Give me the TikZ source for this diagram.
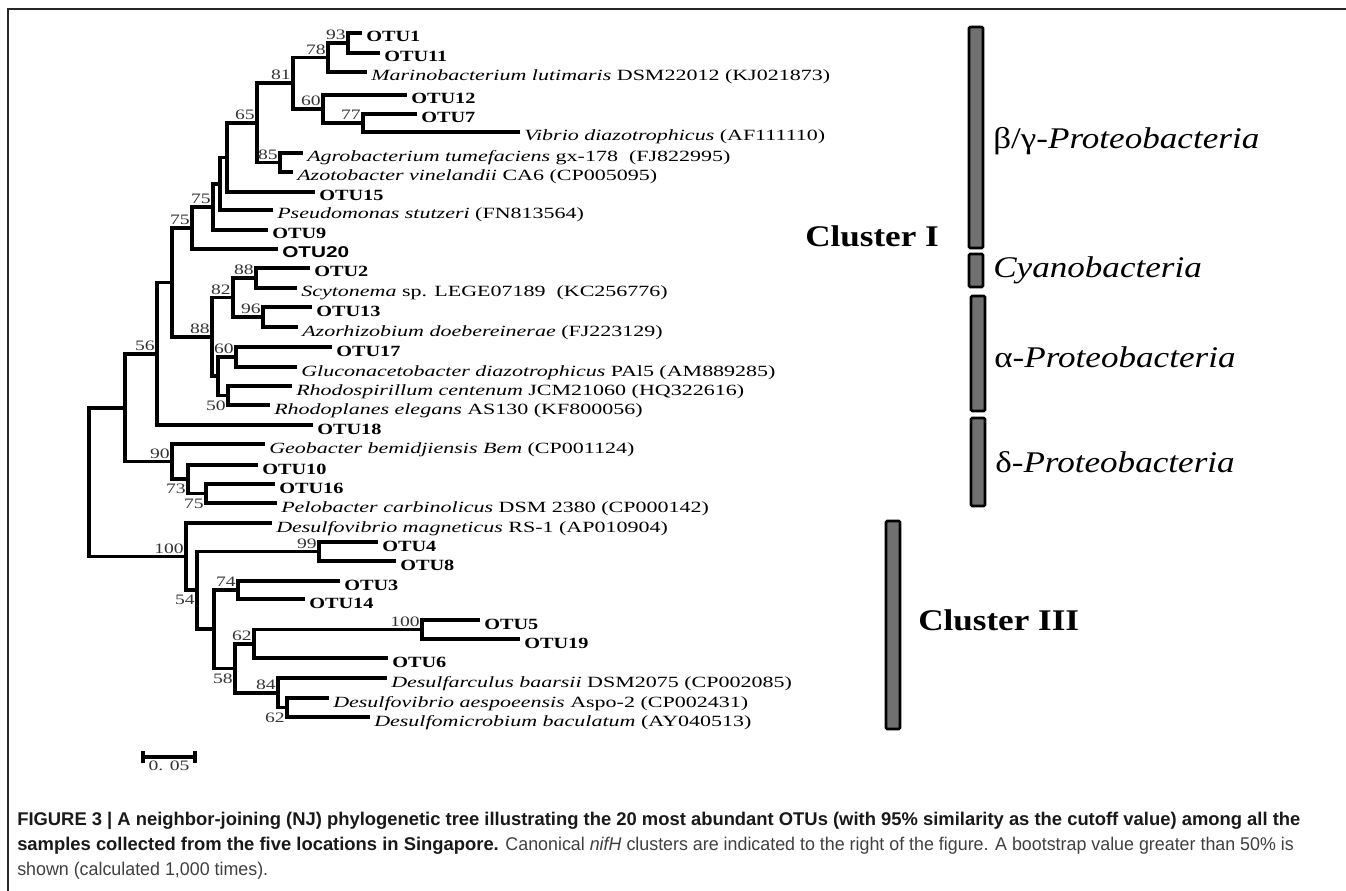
\documentclass[tikz,border=0pt]{standalone}
\usepackage{fontspec}
\setmainfont{Liberation Serif}
\newfontfamily\leaffont{Liberation Serif}[FakeStretch=1.41]
\newfontfamily\otufont{Liberation Serif}[FakeStretch=1.3]
\newfontfamily\bootfont{Liberation Serif}[FakeStretch=1.36]
\newfontfamily\sansleaf{Liberation Sans}[FakeStretch=1.33]
\newfontfamily\grpfont{Liberation Serif}[FakeStretch=1.17]
\newfontfamily\capfont{Liberation Sans}
\newfontfamily\capreg{Liberation Sans}[FakeStretch=0.97]

\begin{document}
\begin{tikzpicture}[x=0.75pt,y=-0.75pt,
  branch/.style={line width=2.6pt},
  leaf/.style={anchor=base west,inner sep=0pt,xshift=3pt,yshift=-6.75pt,font=\leaffont\fontsize{11.7}{12}\selectfont},
  otu/.style={leaf,font=\otufont\bfseries\fontsize{11.7}{12}\selectfont},
  bnum/.style={inner sep=0pt,text=black!80,font=\bootfont\fontsize{10.8}{11}\selectfont},
  boota/.style={bnum,anchor=base east,xshift=-1.5pt,yshift=2.6pt},
  bootb/.style={bnum,anchor=base east,xshift=-1.5pt,yshift=-11pt},
  bar/.style={draw=black,fill=black!56,line width=2pt,rounded corners=1pt},
  grp/.style={anchor=base west,inner sep=0pt,font=\grpfont\fontsize{22.5}{24}\selectfont},
  clus/.style={anchor=base west,inner sep=0pt,font=\grpfont\bfseries\fontsize{22.5}{24}\selectfont},
  capline/.style={anchor=base west,inner sep=0pt,text=black!75,font=\capreg\fontsize{13.8}{16}\selectfont}]
\useasboundingbox (0,0) rectangle (1346,891);
\draw[line width=2.2pt,black!85] (1346,9) -- (8,9) -- (8,891);

% tips
\coordinate (otu1) at (362,33);
\coordinate (otu11) at (380,53);
\coordinate (mari) at (367,72);
\coordinate (otu12) at (407,95);
\coordinate (otu7) at (417,114);
\coordinate (vibr) at (520,132);
\coordinate (agro) at (303,153);
\coordinate (azot) at (293,172);
\coordinate (otu15) at (315,192);
\coordinate (pseu) at (273,210);
\coordinate (otu9) at (268,230);
\coordinate (otu20) at (278,249);
\coordinate (otu2) at (310,268);
\coordinate (scyt) at (297,288);
\coordinate (otu13) at (312,307);
\coordinate (azor) at (298,327);
\coordinate (otu17) at (332,347);
\coordinate (gluc) at (297,367);
\coordinate (rhsp) at (292,386);
\coordinate (rhpl) at (270,405);
\coordinate (otu18) at (313,425);
\coordinate (geob) at (265,444);
\coordinate (otu10) at (258,465);
\coordinate (otu16) at (275,484);
\coordinate (pelo) at (277,503);
\coordinate (dmag) at (272,523);
\coordinate (otu4) at (378,542);
\coordinate (otu8) at (396,561);
\coordinate (otu3) at (340,581);
\coordinate (otu14) at (305,599);
\coordinate (otu5) at (480,620);
\coordinate (otu19) at (520,639);
\coordinate (otu6) at (388,658);
\coordinate (dbaa) at (387,678);
\coordinate (daes) at (329,698);
\coordinate (dbac) at (370,717);

% inner nodes
\coordinate (n93) at (348,43);
\coordinate (n78) at (328,57.5);
\coordinate (n77) at (363,123);
\coordinate (n60a) at (323,109);
\coordinate (n81) at (293,83);
\coordinate (n85) at (280,162.5);
\coordinate (n65) at (257,123);
\coordinate (na) at (227,157.5);
\coordinate (nb) at (220,184);
\coordinate (n75a) at (213,207);
\coordinate (n75b) at (192,228);
\coordinate (n88a) at (256,278);
\coordinate (n96) at (263,317);
\coordinate (n82) at (233,297.5);
\coordinate (n60b) at (236,357);
\coordinate (n50) at (228,395.5);
\coordinate (nc) at (218,376);
\coordinate (n88b) at (212,337);
\coordinate (ne) at (172,282.5);
\coordinate (n56) at (157,354);
\coordinate (n75c) at (206,493.5);
\coordinate (n73) at (188,479);
\coordinate (n90) at (172,461.5);
\coordinate (ng) at (125,408);
\coordinate (n99) at (319,551.5);
\coordinate (n74) at (238,590);
\coordinate (n100b) at (422,629.5);
\coordinate (n62a) at (254,644);
\coordinate (n62b) at (287,707.5);
\coordinate (n84) at (278,693);
\coordinate (n58) at (235,668.5);
\coordinate (nh) at (214,629);
\coordinate (n54) at (197,590);
\coordinate (n100a) at (186,556.5);
\coordinate (root) at (89,482);

% branches
\foreach \p/\c in {n93/otu1,n93/otu11,n78/n93,n78/mari,n77/otu7,n77/vibr,
    n60a/otu12,n60a/n77,n81/n78,n81/n60a,n85/agro,n85/azot,n65/n81,n65/n85,
    na/n65,na/otu15,nb/na,nb/pseu,n75a/nb,n75a/otu9,n75b/n75a,n75b/otu20,
    n88a/otu2,n88a/scyt,n96/otu13,n96/azor,n82/n88a,n82/n96,n60b/otu17,
    n60b/gluc,n50/rhsp,n50/rhpl,nc/n60b,nc/n50,n88b/n82,n88b/nc,ne/n75b,
    ne/n88b,n56/ne,n56/otu18,n75c/otu16,n75c/pelo,n73/otu10,n73/n75c,
    n90/geob,n90/n73,ng/n56,ng/n90,n99/otu4,n99/otu8,n74/otu3,n74/otu14,
    n100b/otu5,n100b/otu19,n62a/n100b,n62a/otu6,n62b/daes,n62b/dbac,
    n84/dbaa,n84/n62b,n58/n62a,n58/n84,nh/n74,nh/n58,n54/n99,n54/nh,
    n100a/dmag,n100a/n54,root/ng,root/n100a}
  \draw[branch] (\p) |- (\c);

% bootstrap values
\node[boota] (b93) at (n93) {93};
\node[boota] (b78) at (n78) {78};
\node[boota] (b81) at (n81) {81};
\node[boota] (b60a) at (n60a) {60};
\node[boota] (b77) at (n77) {77};
\node[boota] (b65) at (n65) {65};
\node[boota] (b85) at (n85) {85};
\node[boota] (b75a) at (n75a) {75};
\node[boota] (b75b) at (n75b) {75};
\node[boota] (b88a) at (n88a) {88};
\node[boota] (b82) at (n82) {82};
\node[boota] (b96) at (n96) {96};
\node[boota] (b88b) at (n88b) {88};
\node[boota] (b60b) at (n60b) {60};
\node[bootb] (b50) at (n50) {50};
\node[boota] (b56) at (n56) {56};
\node[boota] (b90) at (n90) {90};
\node[bootb] (b73) at (n73) {73};
\node[bootb] (b75c) at (n75c) {75};
\node[boota] (b100a) at (n100a) {100};
\node[bootb] (b54) at (n54) {54};
\node[boota] (b99) at (n99) {99};
\node[boota] (b74) at (n74) {74};
\node[boota] (b62a) at (n62a) {62};
\node[boota] (b100b) at (n100b) {100};
\node[bootb] (b58) at (n58) {58};
\node[boota] (b84) at (n84) {84};
\node[bootb] (b62b) at (n62b) {62};

% leaf labels
\node[otu] (lotu1) at (otu1) {OTU1};
\node[otu] (lotu11) at (otu11) {OTU11};
\node[leaf] (lmari) at (mari) {\itshape Marinobacterium lutimaris\upshape\ DSM22012 (KJ021873)};
\node[otu] (lotu12) at (otu12) {OTU12};
\node[otu] (lotu7) at (otu7) {OTU7};
\node[leaf] (lvibr) at (vibr) {\itshape Vibrio diazotrophicus\upshape\ (AF111110)};
\node[leaf] (lagro) at (agro) {\itshape Agrobacterium tumefaciens\upshape\ gx-178 \ (FJ822995)};
\node[leaf] (lazot) at (azot) {\itshape Azotobacter vinelandii\upshape\ CA6 (CP005095)};
\node[otu] (lotu15) at (otu15) {OTU15};
\node[leaf] (lpseu) at (pseu) {\itshape Pseudomonas stutzeri\upshape\ (FN813564)};
\node[otu] (lotu9) at (otu9) {OTU9};
\node[otu] (lotu20) at (otu20) {\sansleaf\bfseries OTU20};
\node[otu] (lotu2) at (otu2) {OTU2};
\node[leaf] (lscyt) at (scyt) {\itshape Scytonema\upshape\ sp. LEGE07189 \ (KC256776)};
\node[otu] (lotu13) at (otu13) {OTU13};
\node[leaf] (lazor) at (azor) {\itshape Azorhizobium doebereinerae\upshape\ (FJ223129)};
\node[otu] (lotu17) at (otu17) {OTU17};
\node[leaf] (lgluc) at (gluc) {\itshape Gluconacetobacter diazotrophicus\upshape\ PAl5 (AM889285)};
\node[leaf] (lrhsp) at (rhsp) {\itshape Rhodospirillum centenum\upshape\ JCM21060 (HQ322616)};
\node[leaf] (lrhpl) at (rhpl) {\itshape Rhodoplanes elegans\upshape\ AS130 (KF800056)};
\node[otu] (lotu18) at (otu18) {OTU18};
\node[leaf] (lgeob) at (geob) {\itshape Geobacter bemidjiensis Bem\upshape\ (CP001124)};
\node[otu] (lotu10) at (otu10) {OTU10};
\node[otu] (lotu16) at (otu16) {OTU16};
\node[leaf] (lpelo) at (pelo) {\itshape Pelobacter carbinolicus\upshape\ DSM 2380 (CP000142)};
\node[leaf] (ldmag) at (dmag) {\itshape Desulfovibrio magneticus\upshape\ RS-1 (AP010904)};
\node[otu] (lotu4) at (otu4) {OTU4};
\node[otu] (lotu8) at (otu8) {OTU8};
\node[otu] (lotu3) at (otu3) {OTU3};
\node[otu] (lotu14) at (otu14) {OTU14};
\node[otu] (lotu5) at (otu5) {OTU5};
\node[otu] (lotu19) at (otu19) {OTU19};
\node[otu] (lotu6) at (otu6) {OTU6};
\node[leaf] (ldbaa) at (dbaa) {\itshape Desulfarculus baarsii\upshape\ DSM2075 (CP002085)};
\node[leaf] (ldaes) at (daes) {\itshape Desulfovibrio aespoeensis\upshape\ Aspo-2 (CP002431)};
\node[leaf] (ldbac) at (dbac) {\itshape Desulfomicrobium baculatum\upshape\ (AY040513)};

% scale bar
\coordinate (sbl) at (143,757);
\coordinate (sbr) at (195,757);
\draw[branch] (sbl) -- (sbr);
\draw[branch] (sbl) ++(0,-6) -- ++(0,12);
\draw[branch] (sbr) ++(0,-6) -- ++(0,12);
\node[bnum,anchor=north] (sblab) at (169,761) {0. 05};

% nifH clusters
\draw[bar] (969,27) rectangle (983,248);
\draw[bar] (969,254) rectangle (983,287);
\draw[bar] (971,296) rectangle (985,411);
\draw[bar] (971,418) rectangle (985,506);
\draw[bar] (886,521) rectangle (900,729);
\node[grp] (gbg) at (993,149) {β/γ-\textit{Proteobacteria}};
\node[grp] (gcy) at (993,278) {\textit{Cyanobacteria}};
\node[grp] (gal) at (994,368) {α-\textit{Proteobacteria}};
\node[grp] (gde) at (995,472) {δ-\textit{Proteobacteria}};
\node[clus] (c1) at (805,247) {Cluster I};
\node[clus] (c3) at (918,630) {Cluster III};

% caption
\node[capline,text=black!90,font=\capfont\bfseries\fontsize{13.8}{16}\selectfont] (cap1) at (17,825) {FIGURE 3 | A neighbor-joining (NJ) phylogenetic tree illustrating the 20 most abundant OTUs (with 95\% similarity as the cutoff value) among all the};
\node[capline] (cap2) at (17,850) {{\capfont\bfseries\color{black!90}samples collected from the five locations in Singapore.} Canonical \textit{nifH} clusters are indicated to the right of the figure. A bootstrap value greater than 50\% is};
\node[capline] (cap3) at (17,875) {shown (calculated 1,000 times).};
\end{tikzpicture}
\end{document}
